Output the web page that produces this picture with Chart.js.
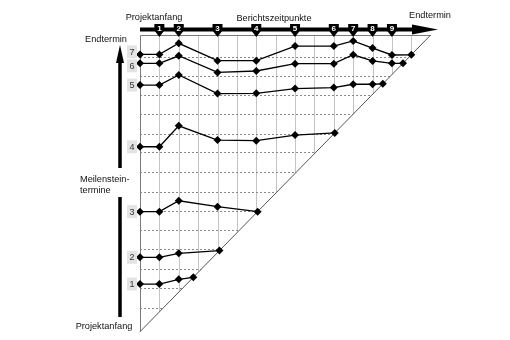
<!DOCTYPE html>
<html>
<head>
<meta charset="utf-8">
<script src="https://cdn.jsdelivr.net/npm/chart.js@4/dist/chart.umd.min.js"></script>
<style>
  html, body { margin: 0; padding: 0; background: #fff; }
  canvas { display: block; }
</style>
</head>
<body>
<canvas id="mta" width="510" height="340"></canvas>
<script>
// Meilensteintrendanalyse: Berichtszeitpunkte (x) gegen prognostizierte Meilensteintermine (y)

// Zeitpunkte der Berichte 1..9 (Projektanfang = 0, Endtermin = 15)
const reportTimes = [1, 2, 4, 6, 8, 10, 11, 12, 13];
const reportLabels = ['1', '2', '3', '4', '5', '6', '7', '8', '9'];

// Prognosen je Meilenstein: Plan bei Projektanfang, dann je Bericht
const milestone1 = [2.41, 2.41, 2.65];
const milestone2 = [3.76, 3.76, 3.96];
const milestone3 = [6.07, 6.07, 6.62, 6.32];
const milestone4 = [9.35, 9.35, 10.41, 9.69, 9.66, 9.94];
const milestone5 = [12.47, 12.47, 12.98, 12.04, 12.05, 12.29, 12.34, 12.51, 12.51];
const milestone6 = [13.57, 13.57, 13.95, 13.11, 13.18, 13.55, 13.55, 14.0, 13.69, 13.57];
const milestone7 = [14.02, 14.02, 14.58, 13.70, 13.70, 14.44, 14.44, 14.70, 14.34, 13.99];

// Tatsächlich erreichte Termine (Punkt auf der Diagonale)
const reachedDates = [2.75, 4.1, 6.07, 10.05, 12.53, 13.57, 14.0];
const milestoneLabels = ['1', '2', '3', '4', '5', '6', '7'];

// gepunktete Hilfslinien der Terminachse
const dateGridLines = [1.2, 2.2, 3.17, 4.17, 5.14, 6.1, 7.08, 8.06, 9.07, 10.01, 10.99, 11.97, 12.94, 13.9];

const forecasts = [milestone1, milestone2, milestone3, milestone4, milestone5, milestone6, milestone7];
const times = [0].concat(reportTimes);

const datasets = forecasts.map((vals, i) => {
  const pts = vals.map((v, j) => ({ x: times[j], y: v }));
  pts.push({ x: reachedDates[i], y: reachedDates[i] });
  return {
    label: milestoneLabels[i],
    data: pts,
    showLine: true,
    borderColor: '#000',
    borderWidth: 1.3,
    backgroundColor: '#000',
    pointStyle: 'rectRot',
    pointRadius: 4,
    pointBorderWidth: 0,
    clip: false
  };
});

const FONT = '"Liberation Sans", Arial, sans-serif';

const triangleGrid = {
  id: 'triangleGrid',
  beforeDatasetsDraw(chart) {
    const { ctx, chartArea: a, scales: { x, y } } = chart;
    ctx.save();
    ctx.beginPath();
    ctx.moveTo(a.left, a.bottom);
    ctx.lineTo(a.left, a.top);
    ctx.lineTo(a.right, a.top);
    ctx.closePath();
    ctx.clip();
    // senkrechte Linien je Zeiteinheit
    ctx.strokeStyle = '#c4c4c4';
    ctx.lineWidth = 1;
    for (let t = 1; t < 15; t++) {
      const px = Math.round(x.getPixelForValue(t)) + 0.5;
      ctx.beginPath();
      ctx.moveTo(px, a.top);
      ctx.lineTo(px, a.bottom);
      ctx.stroke();
    }
    // gepunktete waagerechte Linien
    ctx.strokeStyle = '#8a8a8a';
    ctx.setLineDash([2, 2]);
    dateGridLines.forEach(v => {
      const py = Math.round(y.getPixelForValue(v)) + 0.5;
      ctx.beginPath();
      ctx.moveTo(a.left, py);
      ctx.lineTo(a.right, py);
      ctx.stroke();
    });
    ctx.restore();

    // Rahmen und Diagonale
    ctx.save();
    ctx.strokeStyle = '#7a7a7a';
    ctx.lineWidth = 1;
    ctx.beginPath();
    ctx.moveTo(Math.round(a.left) + 0.5, a.bottom);
    ctx.lineTo(Math.round(a.left) + 0.5, Math.round(a.top) + 0.5);
    ctx.lineTo(a.right, Math.round(a.top) + 0.5);
    ctx.stroke();
    ctx.strokeStyle = '#555';
    ctx.beginPath();
    ctx.moveTo(x.getPixelForValue(0), y.getPixelForValue(0));
    ctx.lineTo(x.getPixelForValue(15), y.getPixelForValue(15));
    ctx.stroke();
    ctx.restore();
  }
};

const decorations = {
  id: 'decorations',
  afterDraw(chart) {
    const { ctx, chartArea: a, scales: { x, y } } = chart;
    ctx.save();

    // Zeitachse oben mit Pfeil
    const barY = 29.5;
    ctx.strokeStyle = '#000';
    ctx.lineWidth = 4;
    ctx.beginPath();
    ctx.moveTo(a.left, barY);
    ctx.lineTo(416, barY);
    ctx.stroke();
    ctx.fillStyle = '#000';
    ctx.beginPath();
    ctx.moveTo(412, barY - 5);
    ctx.lineTo(438, barY);
    ctx.lineTo(412, barY + 5);
    ctx.closePath();
    ctx.fill();

    // Berichtsmarken
    reportTimes.forEach((t, i) => {
      const px = x.getPixelForValue(t);
      ctx.fillStyle = '#000';
      ctx.beginPath();
      ctx.moveTo(px - 5, 24);
      ctx.lineTo(px + 5, 24);
      ctx.lineTo(px + 5, 30.5);
      ctx.lineTo(px, 37);
      ctx.lineTo(px - 5, 30.5);
      ctx.closePath();
      ctx.fill();
      ctx.fillStyle = '#fff';
      ctx.font = 'bold 8px ' + FONT;
      ctx.textAlign = 'center';
      ctx.textBaseline = 'middle';
      ctx.fillText(reportLabels[i], px, 29);
    });

    // senkrechter Pfeil links
    const ax = 120;
    ctx.strokeStyle = '#000';
    ctx.lineWidth = 3.5;
    ctx.beginPath();
    ctx.moveTo(ax, 317);
    ctx.lineTo(ax, 197);
    ctx.moveTo(ax, 168);
    ctx.lineTo(ax, 60);
    ctx.stroke();
    ctx.fillStyle = '#000';
    ctx.beginPath();
    ctx.moveTo(ax - 4, 63);
    ctx.lineTo(ax, 45);
    ctx.lineTo(ax + 4, 63);
    ctx.closePath();
    ctx.fill();

    // Beschriftungen
    ctx.fillStyle = '#111';
    ctx.font = '9.2px ' + FONT;
    ctx.textBaseline = 'middle';
    ctx.textAlign = 'center';
    ctx.fillText('Projektanfang', 154, 17.5);
    ctx.fillText('Berichtszeitpunkte', 274, 18.5);
    ctx.fillText('Endtermin', 430, 15);
    ctx.fillText('Endtermin', 106, 39);
    ctx.fillText('Projektanfang', 104, 326);
    ctx.textAlign = 'left';
    ctx.fillText('Meilenstein-', 80, 179.5);
    ctx.fillText('termine', 80, 190.5);

    // Meilensteinnummern am linken Rand, gegen Überlappung gespreizt
    const ys = forecasts.map(v => y.getPixelForValue(v[0]));
    const pos = ys.slice();
    const minGap = 14;
    for (let i = pos.length - 1; i > 0; i--) {
      const gap = pos[i - 1] - pos[i];
      if (gap < minGap) {
        const d = (minGap - gap) / 2;
        pos[i] -= d;
        pos[i - 1] += d;
      }
    }
    pos.forEach((py, i) => {
      ctx.fillStyle = '#e4e4e4';
      ctx.fillRect(127, py - 6.5, 10, 13);
      ctx.fillStyle = '#333';
      ctx.font = '9px ' + FONT;
      ctx.textAlign = 'center';
      ctx.fillText(milestoneLabels[i], 132, py + 0.5);
    });

    ctx.restore();
  }
};

new Chart(document.getElementById('mta'), {
  type: 'scatter',
  data: { datasets },
  options: {
    responsive: false,
    devicePixelRatio: 1,
    animation: false,
    layout: { padding: { left: 140, right: 79.3, top: 35, bottom: 8.3 } },
    scales: {
      x: { type: 'linear', min: 0, max: 15, display: false },
      y: { type: 'linear', min: 0, max: 15, display: false }
    },
    plugins: { legend: { display: false }, tooltip: { enabled: false } }
  },
  plugins: [triangleGrid, decorations]
});
</script>
</body>
</html>
